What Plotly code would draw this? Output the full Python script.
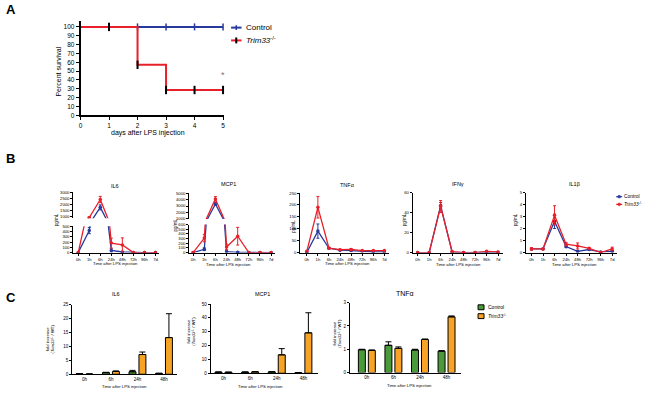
import plotly.graph_objects as go

W, H = 650, 393
FONT = "Liberation Sans, Arial, sans-serif"
BLUE = "#27399c"
RED = "#e8202a"
GREEN = "#4b9a3a"
ORANGE = "#f7a325"

# ---------------- Panel A data ----------------
days = [0, 1, 2, 3, 4, 5]
surv_ctrl = [100, 100, 100, 100, 100, 100]
surv_ko = [100, 100, 57.1, 28.6, 28.6, 28.6]

# ---------------- Panel B data ----------------
times = ["0h", "1h", "6h", "24h", "48h", "72h", "96h", "7d"]
il6_ctrl = [0, 420, 1770, 40, 10, 0, 0, 0]
il6_ctrl_err = [0, 60, 200, 30, 10, 0, 0, 0]
il6_ko = [0, 950, 2400, 180, 145, 0, 0, 0]
il6_ko_err = [0, 40, 250, 95, 135, 0, 0, 0]

mcp1_ctrl = [0, 70, 3300, 20, 5, 0, 0, 0]
mcp1_ctrl_err = [0, 30, 200, 10, 5, 0, 0, 0]
mcp1_ko = [0, 310, 4100, 120, 350, 0, 0, 0]
mcp1_ko_err = [0, 80, 350, 60, 190, 0, 0, 0]

tnf_ctrl = [0, 90, 18, 10, 8, 5, 3, 3]
tnf_ctrl_err = [0, 30, 2, 2, 2, 1, 1, 1]
tnf_ko = [5, 190, 18, 12, 13, 8, 8, 8]
tnf_ko_err = [0, 45, 2, 2, 3, 1, 1, 1]

ifn_ctrl = [0, 0, 47, 0.5, 0, 0, 0.5, 0.3]
ifn_ctrl_err = [0, 0, 3, 0, 0, 0, 0, 0]
ifn_ko = [0, 0, 46, 1, 0, 0, 1.2, 0.6]
ifn_ko_err = [0, 0, 6, 0.3, 0, 0, 0.5, 0.3]

il1b_ctrl = [0.3, 0.3, 2.6, 0.5, 0.1, 0.25, 0.05, 0.1]
il1b_ctrl_err = [0.05, 0.05, 0.6, 0.1, 0.05, 0.05, 0.02, 0.05]
il1b_ko = [0.3, 0.3, 3.1, 0.7, 0.55, 0.35, 0.0, 0.3]
il1b_ko_err = [0.1, 0.05, 0.8, 0.15, 0.25, 0.05, 0.0, 0.15]

# ---------------- Panel C data ----------------
c_times = ["0h", "6h", "24h", "48h"]
c_il6_ctrl = [0.2, 0.6, 0.9, 0.3]
c_il6_ctrl_err = [0.05, 0.1, 0.5, 0.05]
c_il6_ko = [0.05, 1.0, 7.1, 13.2]
c_il6_ko_err = [0.05, 0.2, 0.9, 8.6]

c_mcp1_ctrl = [0.8, 0.8, 1.0, 0.4]
c_mcp1_ctrl_err = [0.1, 0.1, 0.1, 0.05]
c_mcp1_ko = [0.7, 1.0, 13.3, 29.2]
c_mcp1_ko_err = [0.1, 0.2, 4.5, 14.5]

c_tnf_ctrl = [0.98, 1.17, 0.97, 0.92]
c_tnf_ctrl_err = [0.02, 0.15, 0.03, 0.02]
c_tnf_ko = [0.95, 1.04, 1.42, 2.39]
c_tnf_ko_err = [0.02, 0.06, 0.02, 0.04]


def PX(x):
    return x / W


def PY(y):
    return 1 - y / H


fig = go.Figure()

# ---------------- Panel A traces ----------------
fig.add_trace(go.Scatter(x=days, y=surv_ctrl, mode="lines", line=dict(color=BLUE, width=2, shape="hv"),
                         xaxis="x", yaxis="y", showlegend=False))
fig.add_trace(go.Scatter(x=days[2:], y=surv_ctrl[2:], mode="markers", cliponaxis=False,
                         marker=dict(symbol="line-ns", size=5, line=dict(color=BLUE, width=1.5)),
                         xaxis="x", yaxis="y", showlegend=False))
fig.add_trace(go.Scatter(x=days, y=surv_ko, mode="lines", line=dict(color=RED, width=2, shape="hv"),
                         xaxis="x", yaxis="y", showlegend=False))
fig.add_trace(go.Scatter(x=days[1:], y=surv_ko[1:], mode="markers", cliponaxis=False,
                         marker=dict(symbol="line-ns", size=6, line=dict(color="black", width=2)),
                         xaxis="x", yaxis="y", showlegend=False))


# ---------------- Panel B traces ----------------
def add_pair(xa, yas, c, ce, k, ke):
    for ya in yas:
        for vals, err, col in ((c, ce, BLUE), (k, ke, RED)):
            fig.add_trace(go.Scatter(
                x=times, y=vals, mode="lines+markers", xaxis=xa, yaxis=ya, showlegend=False,
                line=dict(color=col, width=1.3),
                marker=dict(color=col, size=3.5),
                error_y=dict(type="data", array=err, color=col, thickness=1, width=1.5)))


add_pair("x2", ["y2", "y3"], il6_ctrl, il6_ctrl_err, il6_ko, il6_ko_err)
add_pair("x3", ["y4", "y5"], mcp1_ctrl, mcp1_ctrl_err, mcp1_ko, mcp1_ko_err)
add_pair("x4", ["y6"], tnf_ctrl, tnf_ctrl_err, tnf_ko, tnf_ko_err)
add_pair("x5", ["y7"], ifn_ctrl, ifn_ctrl_err, ifn_ko, ifn_ko_err)
add_pair("x6", ["y8"], il1b_ctrl, il1b_ctrl_err, il1b_ko, il1b_ko_err)


# ---------------- Panel C traces ----------------
def add_bars(xa, ya, c, ce, k, ke):
    for vals, err, col in ((c, ce, GREEN), (k, ke, ORANGE)):
        fig.add_trace(go.Bar(
            x=c_times, y=vals, xaxis=xa, yaxis=ya, showlegend=False,
            marker=dict(color=col, line=dict(color="black", width=1)),
            error_y=dict(type="data", symmetric=False, array=err, arrayminus=[0] * len(err),
                         color="black", thickness=1, width=3)))


add_bars("x7", "y9", c_il6_ctrl, c_il6_ctrl_err, c_il6_ko, c_il6_ko_err)
add_bars("x8", "y10", c_mcp1_ctrl, c_mcp1_ctrl_err, c_mcp1_ko, c_mcp1_ko_err)
add_bars("x9", "y11", c_tnf_ctrl, c_tnf_ctrl_err, c_tnf_ko, c_tnf_ko_err)


# ---------------- Axes ----------------
def ax(size=4.2, lw=1, tl=2, **kw):
    d = dict(showline=True, linecolor="black", linewidth=lw, ticks="outside", ticklen=tl, tickwidth=lw * 0.8,
             tickcolor="black", tickfont=dict(size=size, family=FONT, color="black"), showgrid=False,
             zeroline=False, fixedrange=True)
    d.update(kw)
    return d


lay = {}
# Panel A
lay["xaxis"] = ax(size=6.5, lw=1.5, tl=3, domain=[PX(79), PX(223)], range=[0, 5.02], tickvals=days,
                  anchor="y")
lay["yaxis"] = ax(size=6.5, lw=1.5, tl=3, domain=[PY(114), PY(18)], range=[0, 107],
                  tickvals=list(range(0, 101, 10)), anchor="x")

# Panel B x-axes: (x-axis name, left px, right px, range)
bx = [("xaxis2", 71.7, 158.3, [-0.45, 7.35], "y2"),
      ("xaxis3", 188.3, 274.7, [-0.36, 7.35], "y4"),
      ("xaxis4", 300.0, 389.2, [-0.6, 7.4], "y6"),
      ("xaxis5", 413.3, 503.7, [-0.43, 7.4], "y7"),
      ("xaxis6", 527.3, 618.6, [-0.47, 7.4], "y8")]
for name, l, r, rg, anc in bx:
    lay[name] = ax(domain=[PX(l), PX(r)], range=rg, type="category", anchor=anc, tickangle=0)

B0 = 253.4
lay["yaxis2"] = ax(domain=[PY(B0), PY(226.8)], range=[0, 500], tickvals=[0, 100, 200, 300, 400, 500], anchor="x2")
lay["yaxis3"] = ax(domain=[PY(218.5), PY(192)], range=[900, 3000],
                   tickvals=[1000, 1500, 2000, 2500, 3000], anchor="x2")
lay["yaxis4"] = ax(domain=[PY(B0), PY(225)], range=[0, 600], tickvals=[0, 100, 200, 300, 400, 500, 600],
                   anchor="x3")
lay["yaxis5"] = ax(domain=[PY(219.3), PY(193)], range=[1000, 5000],
                   tickvals=[1000, 2000, 3000, 4000, 5000], anchor="x3")
lay["yaxis6"] = ax(domain=[PY(B0), PY(193)], range=[0, 250], tickvals=[0, 50, 100, 150, 200, 250], anchor="x4")
lay["yaxis7"] = ax(domain=[PY(B0), PY(192.5)], range=[0, 60], tickvals=[0, 20, 40, 60], anchor="x5")
lay["yaxis8"] = ax(domain=[PY(B0), PY(192.5)], range=[0, 5], tickvals=[0, 1, 2, 3, 4, 5], anchor="x6")

# Panel C
cx = [("xaxis7", 70.7, 176.3, [-0.46, 3.5], "y9"),
      ("xaxis8", 210.0, 318.0, [-0.48, 3.55], "y10"),
      ("xaxis9", 350.0, 462.0, [-0.64, 3.55], "y11")]
for name, l, r, rg, anc in cx:
    lay[name] = ax(size=4.5, domain=[PX(l), PX(r)], range=rg, type="category", anchor=anc, tickangle=0,
                   ticks="")
lay["yaxis9"] = ax(size=4.5, domain=[PY(377), PY(306.5)], range=[0, 25], tickvals=[0, 5, 10, 15, 20, 25],
                   anchor="x7")
lay["yaxis10"] = ax(size=4.5, domain=[PY(376), PY(305.7)], range=[0, 50], tickvals=[0, 10, 20, 30, 40, 50],
                    anchor="x8")
lay["yaxis11"] = ax(size=4.5, domain=[PY(375.3), PY(304.3)], range=[0, 3], tickvals=[0, 1, 2, 3], anchor="x9")

# ---------------- Annotations ----------------
anns = []


def ann(text, x, y, size, xanchor="center", angle=0, color="black", bold=False):
    if bold:
        text = "<b>" + text + "</b>"
    anns.append(dict(text=text, x=PX(x), y=PY(y), xref="paper", yref="paper", xanchor=xanchor,
                     yanchor="middle", showarrow=False, textangle=angle, borderpad=0,
                     font=dict(size=size, family=FONT, color=color)))


ann("A", 3, 7, 13, xanchor="left", bold=True)
ann("B", 3, 158, 13, xanchor="left", bold=True)
ann("C", 3, 299, 13, xanchor="left", bold=True)

ann("Percent survival", 57, 70, 7, angle=-90)
ann("days after LPS injection", 147, 132.3, 7)
ann("*", 222, 73, 9, color="#777777")
ann("Control", 245, 25, 8, xanchor="left")
ann("<i>Trim33</i><sup>-/-</sup>", 245, 38, 8, xanchor="left")

for t, x, y in (("IL6", 114, 186), ("MCP1", 228, 184), ("TNFα", 348, 185), ("IFNγ", 459, 183.5),
                ("IL1β", 576, 183.5)):
    ann(t, x, y, 5.5)
for x, y in ((114, 265), (228, 265.5), (348, 265), (459, 266), (576, 266)):
    ann("Time after LPS injection", x, y, 4.2)
for x, y in ((55, 220), (175, 225), (293, 227), (405, 220), (516.7, 220)):
    ann("pg/mL", x, y, 4.5, angle=-90)
ann("Control", 625, 196.7, 4.8, xanchor="left")
ann("<i>Trim33</i><sup>-/-</sup>", 625, 204.5, 4.8, xanchor="left")

for t, x, y, s in (("IL6", 115, 296, 5.5), ("MCP1", 262, 296, 5.5), ("TNFα", 405, 295.5, 7)):
    ann(t, x, y, s)
for x, y in ((123, 389.3), (260, 389), (410, 388.3)):
    ann("Time after LPS injection", x, y, 4.2)
for x, y in ((48, 341), (190, 333), (337, 335)):
    ann("fold increase<br>(<i>Trim33</i><sup>-/-</sup> / WT)", x, y, 4.2, angle=-90)
ann("Control", 488, 309, 5, xanchor="left")
ann("<i>Trim33</i><sup>-/-</sup>", 488, 318, 5, xanchor="left")

# ---------------- Legend keys (shapes) ----------------
shapes = []


def line(x0, y0, x1, y1, col, w):
    shapes.append(dict(type="line", xref="paper", yref="paper", x0=PX(x0), y0=PY(y0), x1=PX(x1), y1=PY(y1),
                       line=dict(color=col, width=w)))


# legend A
line(230.5, 25, 241, 25, BLUE, 2)
line(235.7, 22.5, 235.7, 27.5, BLUE, 1.5)
line(230.5, 38, 241, 38, RED, 2)
line(235.7, 35, 235.7, 41, "black", 2)
# legend B
line(618, 196.7, 624, 196.7, BLUE, 1.2)
line(618, 204.5, 624, 204.5, RED, 1.2)
for yy, col in ((196.7, BLUE), (204.5, RED)):
    shapes.append(dict(type="circle", xref="paper", yref="paper", x0=PX(619.6), x1=PX(622.4),
                       y0=PY(yy + 1.4), y1=PY(yy - 1.4), fillcolor=col, line=dict(color=col, width=0.5)))
# legend C
for yy, col in ((309, GREEN), (318, ORANGE)):
    shapes.append(dict(type="rect", xref="paper", yref="paper", x0=PX(479), x1=PX(485),
                       y0=PY(yy + 2.5), y1=PY(yy - 2.5), fillcolor=col, line=dict(color="black", width=1)))

fig.update_layout(
    width=W, height=H, autosize=False, margin=dict(l=0, r=0, t=0, b=0),
    paper_bgcolor="white", plot_bgcolor="white", showlegend=False,
    barmode="group", bargap=0.25, bargroupgap=0.3,
    font=dict(family=FONT, color="black"),
    annotations=anns, shapes=shapes, **lay)

fig.write_html("out.html", config={"displayModeBar": False},
               post_script="document.body.style.margin='0';document.body.style.padding='0';")
